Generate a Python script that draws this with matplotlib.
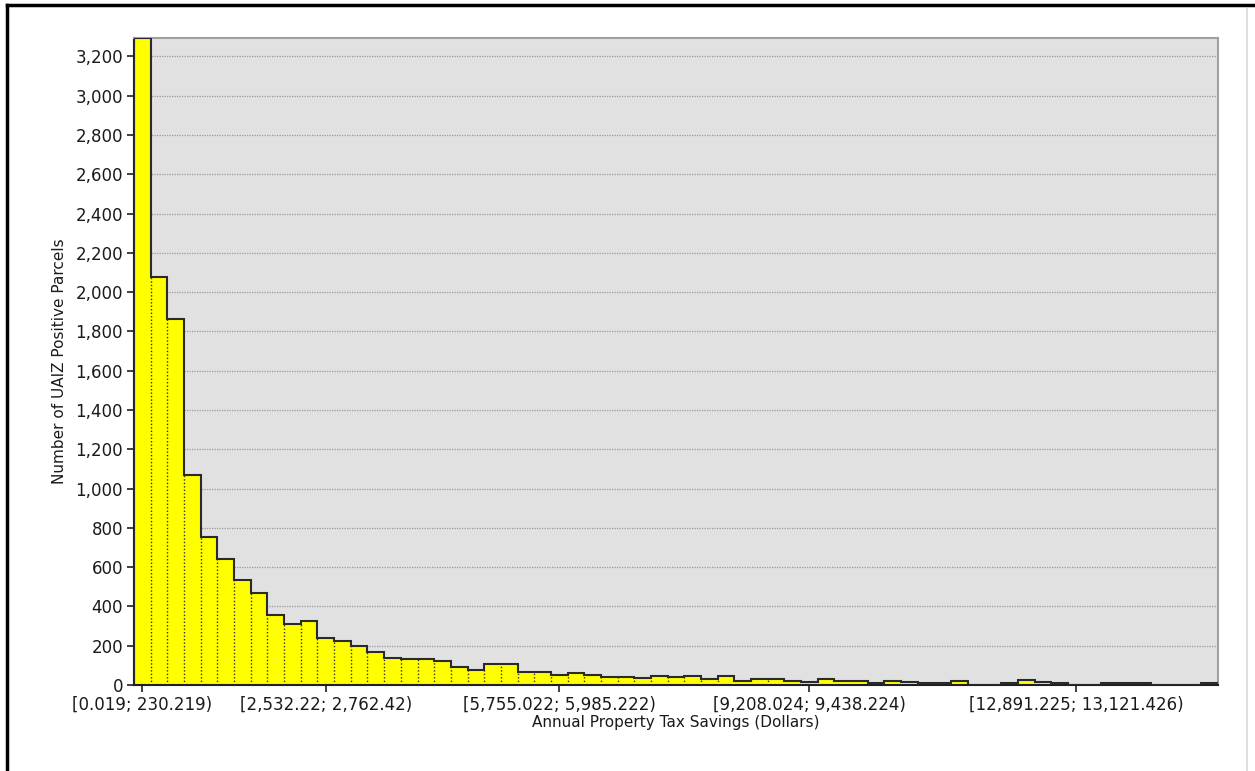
import matplotlib
matplotlib.use("Agg")
import matplotlib.pyplot as plt
from matplotlib.lines import Line2D
import numpy as np

# ---- data ----
bin_start = 0.019
bin_width = 230.2
counts = [3294, 2076, 1862, 1071, 756, 644, 536, 469, 357, 310,
          326, 240, 226, 200, 170, 139, 133, 133, 123, 94,
          77, 105, 107, 68, 68, 51, 60, 51, 43, 41,
          35, 46, 39, 46, 29, 48, 19, 29, 29, 19,
          15, 29, 22, 22, 12, 22, 15, 10, 10, 19,
          2, 2, 10, 24, 15, 9, 2, 2, 9, 9,
          9, 2, 2, 2, 10]
tick_bins = [0, 11, 25, 40, 56]
tick_labels = ["[0.019; 230.219)", "[2,532.22; 2,762.42)", "[5,755.022; 5,985.222)",
               "[9,208.024; 9,438.224)", "[12,891.225; 13,121.426)"]
y_ticks = list(range(0, 3201, 200))
x_title = "Annual Property Tax Savings (Dollars)"
y_title = "Number of UAIZ Positive Parcels"

plt.rcParams['font.family'] = ['DejaVu Sans']
W, H = 1255, 771
fig = plt.figure(figsize=(W / 100, H / 100), dpi=100)
fig.patch.set_facecolor("white")

L, R, T, B = 134, 1218, 38, 685
ax = fig.add_axes([L / W, (H - B) / H, (R - L) / W, (B - T) / H])
ax.set_facecolor("#e1e1e1")

counts_arr = np.array(counts, dtype=float)
n = len(counts_arr)
edges = bin_start + bin_width * np.arange(n + 1)
centers = (edges[:-1] + edges[1:]) / 2

ax.bar(edges[:-1], counts_arr, width=bin_width, align="edge",
       color="#ffff00", edgecolor="none", zorder=2)
# dotted dividers between bars
for i in range(1, n):
    h = min(counts_arr[i - 1], counts_arr[i])
    if h > 0:
        ax.vlines(edges[i], 0, h, colors="#303030", linestyles=(0, (1, 1.5)),
                  linewidth=1.0, zorder=3)
ax.stairs(counts_arr, edges, color="#2a2a2a", linewidth=1.5, zorder=4, baseline=0)

ax.set_xlim(edges[0], edges[-1])
ax.set_ylim(0, counts_arr.max())

ax.set_yticks(y_ticks)
ax.set_yticklabels([f"{v:,}" for v in y_ticks])
ax.yaxis.grid(True, color="#9a9a9a", linestyle=(0, (1, 1)), linewidth=0.9, zorder=1)
ax.set_axisbelow(True)

ax.set_xticks([centers[b] for b in tick_bins])
ax.set_xticklabels(tick_labels)

ax.tick_params(axis="both", direction="out", length=5, width=1.2, color="#202020",
               labelsize=12, labelcolor="#1a1a1a", pad=3)

for s in ["left", "bottom"]:
    ax.spines[s].set_color("#202020")
    ax.spines[s].set_linewidth(1.5)
for s in ["top", "right"]:
    ax.spines[s].set_color("#a0a0a0")
    ax.spines[s].set_linewidth(1.5)

ax.set_xlabel(x_title, fontsize=11, color="#1a1a1a", labelpad=1)
ax.set_ylabel(y_title, fontsize=11, color="#1a1a1a", labelpad=6)

# outer frame
fig.add_artist(Line2D([7 / W, 1.0], [1 - 5 / H, 1 - 5 / H], color="black", linewidth=2.5,
                      transform=fig.transFigure))
fig.add_artist(Line2D([7 / W, 7 / W], [0, 1 - 5 / H], color="black", linewidth=2.5,
                      transform=fig.transFigure))
fig.add_artist(Line2D([1247 / W, 1247 / W], [0, 1 - 9 / H], color="#d8d8d8", linewidth=1.2,
                      transform=fig.transFigure))

fig.savefig("out.png", dpi=100)
